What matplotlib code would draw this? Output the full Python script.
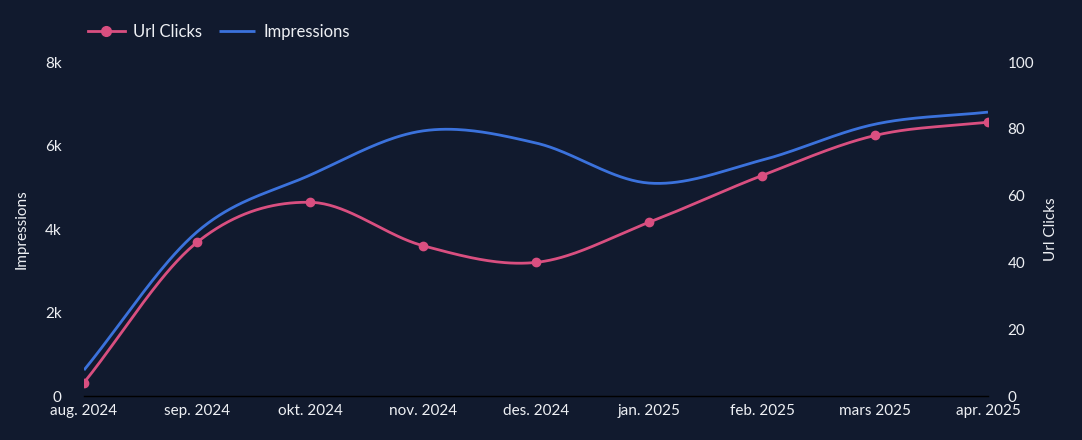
import numpy as np
import matplotlib
matplotlib.use("Agg")
import matplotlib.pyplot as plt
from matplotlib.ticker import FuncFormatter

# data
months = ["aug. 2024", "sep. 2024", "okt. 2024", "nov. 2024", "des. 2024",
          "jan. 2025", "feb. 2025", "mars 2025", "apr. 2025"]
impressions = [620, 3930, 5290, 6350, 6060, 5100, 5650, 6510, 6800]
url_clicks = [4, 46, 58, 45, 40, 52, 66, 78, 82]

bg = "#111a2e"
pink = "#d94f80"
blue = "#3b72dc"
txt = "#eef0f4"

plt.rcParams['font.family'] = ['Lato', 'DejaVu Sans']


def smooth(y, n=40):
    # catmull-rom style curve through the points (drawing only)
    y = np.asarray(y, dtype=float)
    k = len(y)
    m = np.zeros(k)
    m[1:-1] = (y[2:] - y[:-2]) / 2.0
    m[0] = y[1] - y[0]
    m[-1] = y[-1] - y[-2]
    xs, ys = [], []
    for i in range(k - 1):
        t = np.linspace(0, 1, n, endpoint=(i == k - 2))
        h00 = 2*t**3 - 3*t**2 + 1
        h10 = t**3 - 2*t**2 + t
        h01 = -2*t**3 + 3*t**2
        h11 = t**3 - t**2
        xs.append(i + t)
        ys.append(h00*y[i] + h10*m[i] + h01*y[i+1] + h11*m[i+1])
    return np.concatenate(xs), np.concatenate(ys)


x = np.arange(len(months))

fig = plt.figure(figsize=(10.82, 4.4), dpi=100, facecolor=bg)
ax = fig.add_axes([84/1082, 44/440, (988-84)/1082, (396-62)/440])
ax.set_facecolor(bg)
ax2 = ax.twinx()

xi, yi = smooth(impressions)
l_imp, = ax.plot(xi, yi, color=blue, lw=2, solid_capstyle='butt', zorder=2)
xc, yc = smooth(url_clicks)
ax2.plot(xc, yc, color=pink, lw=2, zorder=3)
ax2.plot(x, url_clicks, 'o', color=pink, ms=6, zorder=4)
l_clk, = ax2.plot([], [], color=pink, lw=2, marker='o', ms=7)

ax.set_xlim(0, len(months) - 1)
ax.set_ylim(0, 8000)
ax2.set_ylim(0, 100)
ax.set_xticks(x)
ax.set_xticklabels(months)
ax.set_yticks([0, 2000, 4000, 6000, 8000])
ax.yaxis.set_major_formatter(FuncFormatter(lambda v, p: "0" if v == 0 else "%dk" % (v/1000)))
ax2.set_yticks([0, 20, 40, 60, 80, 100])

for a in (ax, ax2):
    for s in a.spines.values():
        s.set_visible(False)
    a.tick_params(length=0, colors=txt, labelsize=11)
ax.spines['bottom'].set_visible(True)
ax.spines['bottom'].set_color('#000000')
ax.spines['bottom'].set_linewidth(1)
ax.tick_params(axis='x', pad=6)
ax.tick_params(axis='y', pad=16)
ax2.tick_params(axis='y', pad=14)

ax.set_ylabel("Impressions", color=txt, fontsize=11, labelpad=12)
ax2.set_ylabel("Url Clicks", color=txt, fontsize=11, labelpad=7)

leg = fig.legend([l_clk, l_imp], ["Url Clicks", "Impressions"], loc='upper left',
                 bbox_to_anchor=(73/1082, 1 - 9/440), ncol=2, frameon=False,
                 fontsize=12, handlelength=2.2, columnspacing=1.0,
                 handletextpad=0.5, labelcolor=txt)

fig.savefig("out.png", dpi=100, facecolor=bg)
